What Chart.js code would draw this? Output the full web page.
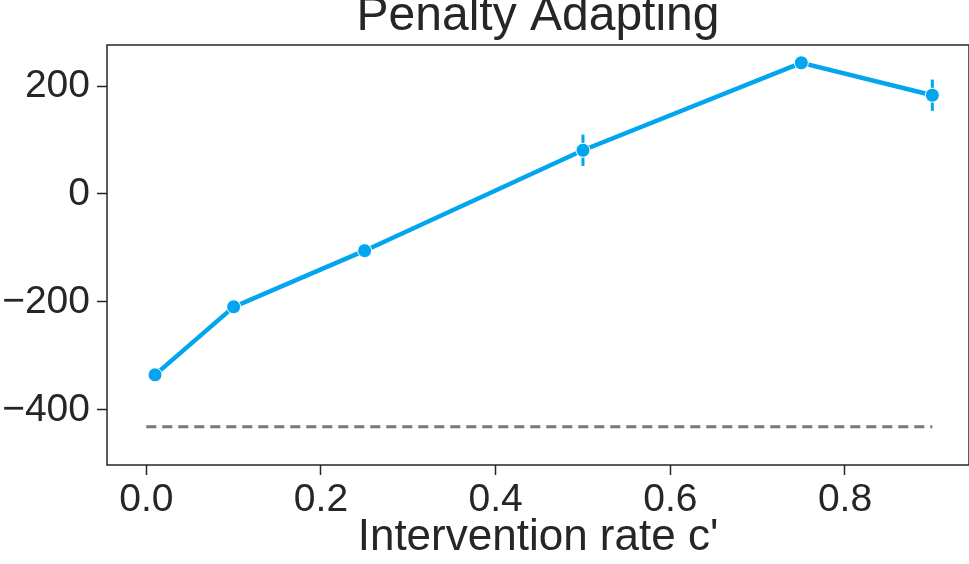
<!DOCTYPE html>
<html>
<head>
<meta charset="utf-8">
<script src="https://cdn.jsdelivr.net/npm/chart.js@4.4.1/dist/chart.umd.min.js"></script>
<style>
  html, body { margin: 0; padding: 0; background: #fff; overflow: hidden; width: 969px; height: 564px; }
  #wrap { width: 977px; height: 564px; }
  canvas { display: block; }
</style>
</head>
<body>
<div id="wrap"><canvas id="penaltyChart"></canvas></div>
<script>
const rates = [0.01, 0.1, 0.25, 0.5, 0.75, 0.9];
const rewards = [-335, -209, -105, 81, 243, 183];
const errors = [4, 4, 4, 29, 3, 29];
const baselineX = [0, 0.9];
const baselineValue = -431;
const xTicks = [0.0, 0.2, 0.4, 0.6, 0.8];
const yTicks = [-400, -200, 0, 200];

const blue = '#03A6EE';
const ink = '#262626';
const fontFamily = '"Liberation Sans", Arial, sans-serif';

// error bars, drawn through the scales
const errorBars = {
  id: 'errorBars',
  beforeDatasetsDraw(chart) {
    const { ctx, scales } = chart;
    ctx.save();
    ctx.strokeStyle = blue;
    ctx.lineWidth = 3;
    rates.forEach((r, i) => {
      const x = scales.x.getPixelForValue(r);
      ctx.beginPath();
      ctx.moveTo(x, scales.y.getPixelForValue(rewards[i] - errors[i]));
      ctx.lineTo(x, scales.y.getPixelForValue(rewards[i] + errors[i]));
      ctx.stroke();
    });
    ctx.restore();
  }
};

// box round the plot area
const frame = {
  id: 'frame',
  afterDraw(chart) {
    const { ctx, chartArea: a } = chart;
    ctx.save();
    ctx.strokeStyle = ink;
    ctx.lineWidth = 1.5;
    ctx.strokeRect(a.left, a.top, a.right - a.left, a.bottom - a.top);
    ctx.restore();
  }
};

const fmtY = v => (v < 0 ? '\u2212' + Math.abs(v) : String(v));

new Chart(document.getElementById('penaltyChart'), {
  type: 'line',
  data: {
    datasets: [
      {
        data: rates.map((r, i) => ({ x: r, y: rewards[i] })),
        borderColor: blue,
        backgroundColor: blue,
        borderWidth: 4.5,
        pointRadius: 7,
        pointBorderColor: '#fff',
        pointBorderWidth: 1,
        pointBackgroundColor: blue,
        tension: 0
      },
      {
        data: baselineX.map(x => ({ x: x, y: baselineValue })),
        borderColor: '#777777',
        borderWidth: 3,
        borderDash: [10, 6],
        pointRadius: 0,
        tension: 0
      }
    ]
  },
  options: {
    responsive: true,
    maintainAspectRatio: false,
    animation: false,
    layout: { padding: { left: 0, right: 1, top: 0, bottom: 0 } },
    plugins: {
      legend: { display: false },
      tooltip: { enabled: false },
      title: {
        display: true,
        text: 'Penalty Adapting',
        fullSize: false,
        color: ink,
        font: { family: fontFamily, size: 48, weight: 'normal', lineHeight: 33 / 48 },
        padding: { top: 0, bottom: 12 }
      }
    },
    scales: {
      x: {
        type: 'linear',
        min: -0.045,
        max: 0.942,
        afterBuildTicks: s => { s.ticks = xTicks.map(v => ({ value: v })); },
        afterFit: s => { s.height = 99; s.paddingLeft = 0; s.paddingRight = 0; },
        ticks: {
          color: ink,
          padding: 2,
          maxRotation: 0,
          font: { family: fontFamily, size: 39 },
          callback: v => v.toFixed(1)
        },
        grid: { display: true, drawOnChartArea: false, drawTicks: true, tickLength: 10, tickWidth: 1.5, tickColor: ink },
        border: { display: false },
        title: {
          display: true,
          text: "Intervention rate c'",
          color: ink,
          font: { family: fontFamily, size: 44 },
          padding: { top: 0, bottom: 0 }
        }
      },
      y: {
        type: 'linear',
        min: -502,
        max: 276,
        afterBuildTicks: s => { s.ticks = yTicks.map(v => ({ value: v })); },
        afterFit: s => { s.width = 107; },
        ticks: {
          color: ink,
          padding: 7,
          font: { family: fontFamily, size: 39 },
          callback: fmtY
        },
        grid: { display: true, drawOnChartArea: false, drawTicks: true, tickLength: 10, tickWidth: 1.5, tickColor: ink },
        border: { display: false }
      }
    }
  },
  plugins: [errorBars, frame]
});
</script>
</body>
</html>
